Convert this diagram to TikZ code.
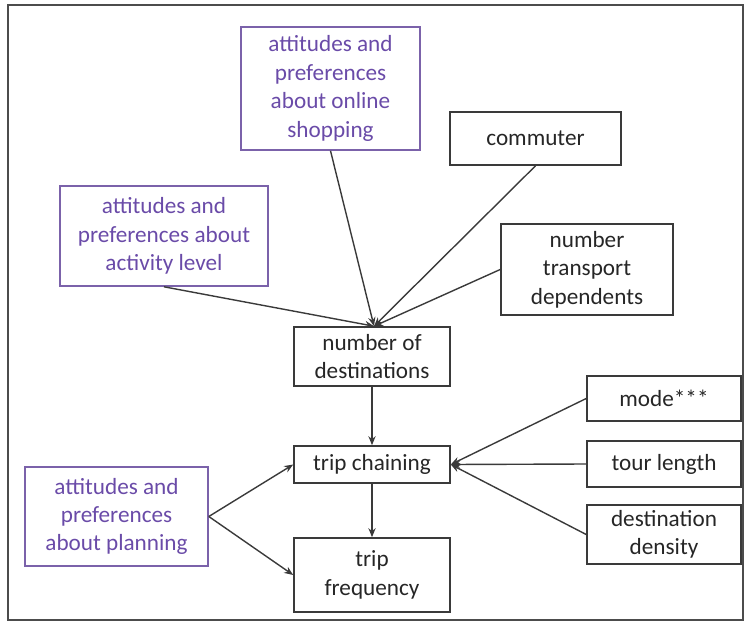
\documentclass[tikz,border=0pt]{standalone}
\usepackage{fontspec}
\setmainfont{Carlito}
\usetikzlibrary{arrows.meta}
\definecolor{purptext}{HTML}{6A4BA8}
\definecolor{purpline}{HTML}{7B62AA}
\definecolor{darkline}{HTML}{3A3A3A}
\begin{document}
\begin{tikzpicture}[x=0.5pt,y=-0.5pt,
  box/.style={draw=darkline, line width=0.8pt, align=center, inner sep=0pt,
    font=\fontsize{11.6}{14.2}\selectfont, text=black!85},
  pbox/.style={box, draw=purpline, text=purptext},
  arr/.style={draw=darkline, line width=0.7pt, -{Stealth[length=4.5pt,width=3.6pt]}}]
\useasboundingbox (0,0) rectangle (747,625);
\draw[line width=1pt, draw=black!70] (8,5) rectangle (743,620);
% nodes (pixel coordinates of centres)
\node[pbox, minimum width=89.5pt, minimum height=61.5pt] (online) at (330.5,88.5) {attitudes and\\preferences\\about online\\shopping};
\node[box, minimum width=85.5pt, minimum height=26.5pt] (commuter) at (535.5,138.5) {commuter};
\node[pbox, minimum width=104pt, minimum height=50pt] (activity) at (164,236) {attitudes and\\preferences about\\activity level};
\node[box, minimum width=86pt, minimum height=45.5pt] (transport) at (587,269.5) {number\\transport\\dependents};
\node[box, minimum width=78pt, minimum height=29.5pt] (dest) at (372,356.5) {number of\\destinations};
\node[box, minimum width=77pt, minimum height=22.5pt] (mode) at (664,398.5) {mode***};
\node[box, minimum width=78pt, minimum height=18.5pt] (chain) at (372,464.5) {trip chaining};
\node[box, minimum width=77pt, minimum height=23pt] (tour) at (664,464) {tour length};
\node[box, minimum width=77pt, minimum height=29.5pt] (density) at (664,534.5) {destination\\density};
\node[pbox, minimum width=91.5pt, minimum height=49.5pt] (planning) at (116.5,516.5) {attitudes and\\preferences\\about planning};
\node[box, minimum width=78pt, minimum height=37pt] (freq) at (372,575) {trip\\frequency};
% connectors
\draw[arr] (online.south) -- ([xshift=1pt]dest.north);
\draw[arr] (commuter.south) -- ([xshift=1pt]dest.north);
\draw[arr] (activity.south) -- ([xshift=1pt]dest.north);
\draw[arr] (transport.west) -- ([xshift=1pt]dest.north);
\draw[arr] (dest.south) -- (chain.north);
\draw[arr] (mode.west) -- (chain.east);
\draw[arr] (tour.west) -- (chain.east);
\draw[arr] (density.west) -- (chain.east);
\draw[arr] (planning.east) -- (chain.west);
\draw[arr] (planning.east) -- (freq.west);
\draw[arr] (chain.south) -- (freq.north);
\end{tikzpicture}
\end{document}
